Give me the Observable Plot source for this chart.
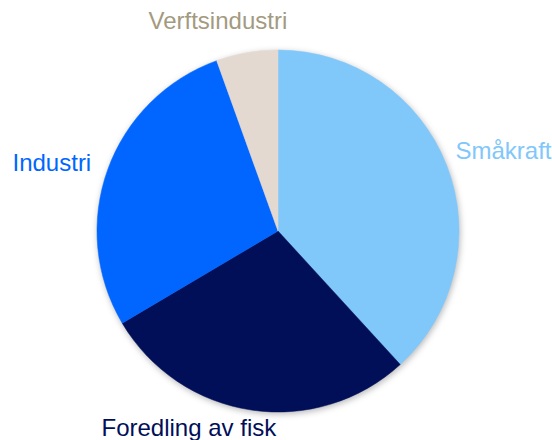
<!DOCTYPE html>
<html><head><meta charset="utf-8">
<script src="https://cdn.jsdelivr.net/npm/d3@7"></script>
<script src="https://cdn.jsdelivr.net/npm/@observablehq/plot@0.6"></script>
<style>body{margin:0;background:#fff}</style>
</head><body><div id="chart"></div>
<script>
// Data (clockwise from 12 o'clock)
const categories = ["Småkraft", "Foredling av fisk", "Industri", "Verftsindustri"];
const shares = [38.2, 28.3, 28.0, 5.5];
const sliceColors = ["#80C7FA", "#000F58", "#0066FF", "#E3D9D0"];
const labelColors = ["#80C7FA", "#000F58", "#0066FF", "#A39A7F"];

const slices = categories.map((c, i) => ({category: c, share: shares[i], labelColor: labelColors[i]}));

// Layout (pixels)
const W = 552, H = 440, cx = 278, cy = 231, R = 181;
const labelLayout = {
  "Småkraft": {dx: 455, dy: 158},
  "Foredling av fisk": {dx: 101, dy: 435},
  "Industri": {dx: 12, dy: 170},
  "Verftsindustri": {dx: 148, dy: 28}
};

const pieMark = Plot.dot(slices, {
  x: () => 0,
  y: () => 0,
  fill: "category",
  render(index, scales, values) {
    const x0 = scales.x(0), y0 = scales.y(0), r = scales.x(1) - scales.x(0);
    const arcs = d3.pie().sort(null).value(i => slices[i].share)(index);
    const arc = d3.arc().innerRadius(0).outerRadius(r);
    const g = d3.create("svg:g")
      .attr("transform", `translate(${x0},${y0})`)
      .style("filter", "drop-shadow(1px 2px 3px rgba(0,0,0,0.28))");
    g.selectAll("path").data(arcs).join("path")
      .attr("d", arc)
      .attr("fill", d => values.fill[d.data])
      .attr("stroke", d => values.fill[d.data])
      .attr("stroke-width", 0.5);
    return g.node();
  }
});

const labelMarks = slices.map(s => Plot.text([s], {
  text: "category",
  frameAnchor: "top-left",
  dx: labelLayout[s.category].dx,
  dy: labelLayout[s.category].dy,
  textAnchor: "start",
  lineAnchor: "bottom",
  fill: s.labelColor,
  fontSize: 24,
  fontFamily: "Liberation Sans, Arial, sans-serif"
}));

const chart = Plot.plot({
  width: W,
  height: H,
  margin: 0,
  x: {domain: [-cx / R, (W - cx) / R], axis: null},
  y: {domain: [-(H - cy) / R, cy / R], axis: null},
  color: {domain: categories, range: sliceColors},
  style: {background: "#fff", overflow: "visible"},
  marks: [pieMark, ...labelMarks]
});
document.getElementById("chart").append(chart);
</script>
</body></html>
